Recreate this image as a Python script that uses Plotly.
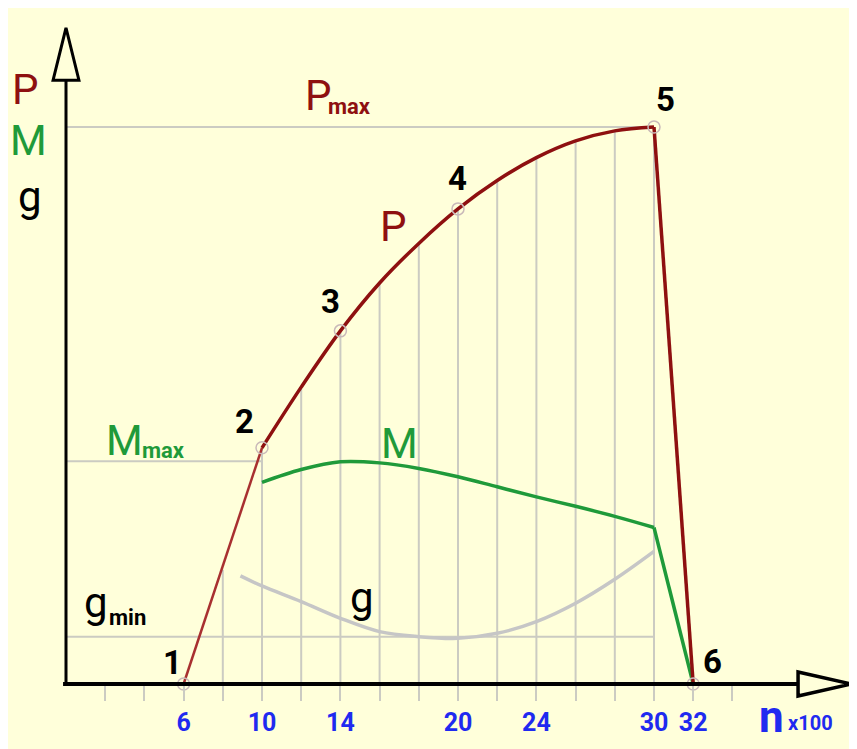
import plotly.graph_objects as go

# engine speed (x100 rpm) and curve values (P max = 100)
rpm_P = [6, 10, 12, 14, 16, 18, 20, 22, 24, 26, 28, 30, 32]
P = [0, 42.4, 53.3, 63.4, 72.0, 79.1, 85.3, 90.4, 94.5, 97.5, 99.3, 100, 0]

rpm_M = [10, 12, 14, 16, 18, 20, 22, 24, 26, 28, 30, 32]
M = [36.2, 38.5, 39.9, 39.7, 38.7, 37.2, 35.4, 33.6, 31.9, 30.1, 28.1, 0]

rpm_g = [8.9, 10, 12, 14, 16, 18, 20, 22, 24, 26, 28, 30]
g = [19.4, 17.6, 14.8, 11.8, 9.4, 8.5, 8.2, 9.1, 11.2, 14.5, 18.8, 23.8]

# numbered operating points
pt_rpm = [6, 10, 14, 20, 30, 32]
pt_val = [0, 42.4, 63.4, 85.3, 100, 0]
pt_names = ["1", "2", "3", "4", "5", "6"]

# vertical guide lines: x and the height where they meet the P curve
grid_x = [8, 10, 12, 14, 16, 18, 20, 22, 24, 26, 28, 30]
grid_top = [20.5, 42.4, 53.3, 63.4, 72.0, 79.1, 85.3, 90.4, 94.5, 97.5, 99.3, 100]

# horizontal reference levels and how far they run
P_max, M_max, g_min = 100, 40, 8.5
ref_end = {"P": 30, "M": 10, "g": 30}

tick_vals = [6, 10, 14, 20, 24, 30, 32]
tick_text = ["6", "10", "14", "20", "24", "30", "32"]
minor_ticks = [2, 4, 8, 12, 16, 18, 22, 26, 28, 34]

RED = "#8e1010"
GREEN = "#1f9a3a"
GRAYLINE = "#cbcbc2"
BLUE = "#1f2af0"
BG = "#ffffda"
FONT = "Roboto, Liberation Sans, sans-serif"

# page body adds an 8px border, so the figure is 8px smaller than the window
W, H = 849, 741
X0, Y0 = 58, 676          # pixel position of the origin inside the figure
SX, SY = 19.6, 5.57       # pixels per unit

fig = go.Figure()

gx, gy = [], []
for x, top in zip(grid_x, grid_top):
    gx += [x, x, None]
    gy += [0, top, None]
fig.add_trace(go.Scatter(x=gx, y=gy, mode="lines", line=dict(color=GRAYLINE, width=2), hoverinfo="skip"))

for lvl, key in [(P_max, "P"), (M_max, "M"), (g_min, "g")]:
    fig.add_trace(go.Scatter(x=[0, ref_end[key]], y=[lvl, lvl], mode="lines",
                             line=dict(color=GRAYLINE, width=2), hoverinfo="skip"))

# g curve
fig.add_trace(go.Scatter(x=rpm_g, y=g, mode="lines", line=dict(color="#c6c6c6", width=3.5, shape="spline")))

# M curve: smooth part then straight drop
fig.add_trace(go.Scatter(x=rpm_M[:-1], y=M[:-1], mode="lines", line=dict(color=GREEN, width=3.5, shape="spline")))
fig.add_trace(go.Scatter(x=rpm_M[-2:], y=M[-2:], mode="lines", line=dict(color=GREEN, width=3.5)))

# P curve: straight rise 1-2, smooth 2-5, straight drop 5-6
fig.add_trace(go.Scatter(x=rpm_P[:2], y=P[:2], mode="lines", line=dict(color="#a83030", width=2.5)))
fig.add_trace(go.Scatter(x=rpm_P[1:-1], y=P[1:-1], mode="lines", line=dict(color=RED, width=3.5, shape="spline")))
fig.add_trace(go.Scatter(x=rpm_P[-2:], y=P[-2:], mode="lines", line=dict(color=RED, width=3.5)))

fig.add_trace(go.Scatter(x=pt_rpm, y=pt_val, mode="markers",
                         marker=dict(size=12, color="rgba(0,0,0,0)", line=dict(color="#c9b9b9", width=1.5))))

# axes drawn as arrows
shapes = [
    dict(type="line", x0=-0.15, x1=40.0, y0=0, y1=0, line=dict(color="black", width=4), layer="above"),
    dict(type="line", x0=0, x1=0, y0=0, y1=117.5, line=dict(color="black", width=3), layer="above"),
    dict(type="path", path="M 0 117.8 L -0.66 108.4 L 0.66 108.4 Z",
         fillcolor=BG, line=dict(color="black", width=3), layer="above"),
    dict(type="path", path="M 40.05 0 L 37.35 2.15 L 37.35 -2.15 Z",
         fillcolor=BG, line=dict(color="black", width=3.5), layer="above"),
]

annotations = []


def label(x, y, text, color, size, bold=False):
    annotations.append(dict(x=x, y=y, text=f"<b>{text}</b>" if bold else text, showarrow=False,
                            font=dict(family=FONT, size=size, color=color),
                            xanchor="center", yanchor="middle"))


label(-2.05, 106.8, "P", RED, 42)
label(-1.9, 97.6, "M", GREEN, 42)
label(-1.85, 87.6, "g", "black", 42)

# symbol + subscript pairs for the reference levels
label(12.86, 105.7, "P", RED, 42)
label(14.45, 103.6, "max", RED, 22, bold=True)
label(2.96, 43.8, "M", GREEN, 42)
label(4.95, 41.9, "max", GREEN, 22, bold=True)
label(1.53, 14.6, "g", "black", 42)
label(3.15, 11.9, "min", "black", 22, bold=True)

label(16.7, 82.2, "P", RED, 42)
label(17.0, 43.2, "M", GREEN, 42)
label(15.1, 15.6, "g", "black", 42)

num_pos = [(5.41, 3.8), (9.13, 47.1), (13.5, 68.6), (19.95, 90.7), (30.6, 105.0), (33.0, 4.1)]
for (x, y), n in zip(num_pos, pt_names):
    label(x, y, n, "black", 33, bold=True)

label(36.0, -5.9, "n", BLUE, 44, bold=True)
label(38.0, -7.0, "x100", BLUE, 20, bold=True)

fig.update_layout(
    width=W, height=H,
    margin=dict(l=0, r=0, t=0, b=0),
    paper_bgcolor=BG,
    plot_bgcolor="rgba(0,0,0,0)",
    showlegend=False,
    shapes=shapes,
    annotations=annotations,
    xaxis=dict(range=[-X0 / SX, (W - X0) / SX], showgrid=False, zeroline=False, showline=False,
               anchor="free", position=(H - Y0) / H,
               tickmode="array", tickvals=tick_vals, ticktext=tick_text,
               ticks="outside", ticklen=16, tickwidth=2, tickcolor=GRAYLINE,
               minor=dict(tickvals=minor_ticks, ticks="outside", ticklen=16, tickwidth=2, tickcolor=GRAYLINE),
               tickfont=dict(family=FONT, size=25, color=BLUE, weight="bold")),
    yaxis=dict(range=[-(H - Y0) / SY, Y0 / SY], visible=False, domain=[0, 1]),
)

fig.write_html("out.html")
